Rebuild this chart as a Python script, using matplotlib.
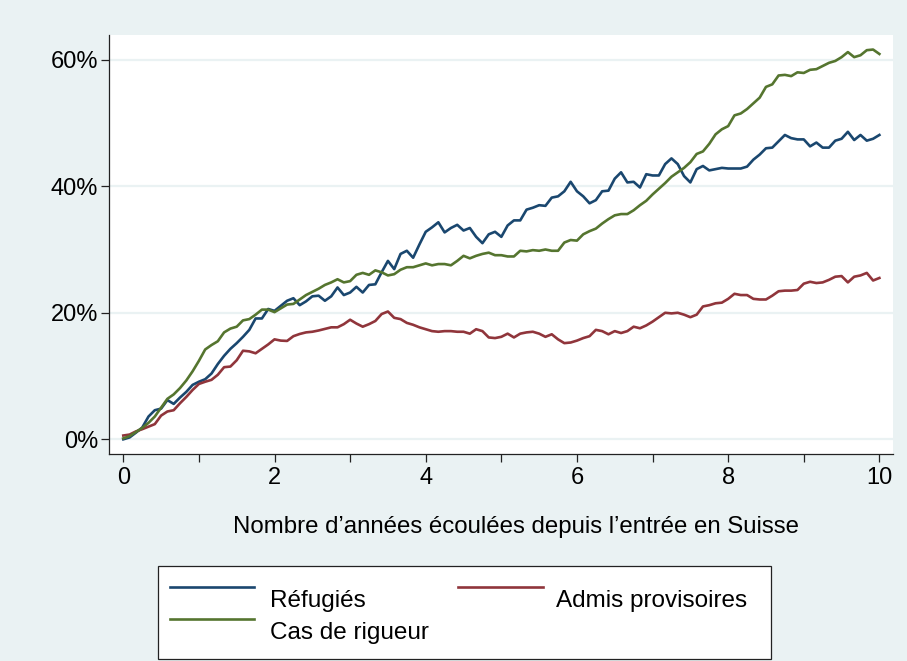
import numpy as np
import matplotlib
matplotlib.use("Agg")
import matplotlib.pyplot as plt
from matplotlib.lines import Line2D
from matplotlib.patches import Rectangle
from matplotlib.ticker import FixedLocator, FuncFormatter

plt.rcParams['font.family'] = ['Liberation Sans', 'DejaVu Sans']

# years since entry (monthly steps, 0..10 years)
months = np.arange(121)
years = months / 12.0

refugies = [
    0.0, 0.3, 1.05, 1.85, 3.6, 4.6, 4.85, 6.2, 5.6, 6.6, 7.5, 8.6, 9.1, 9.5, 10.4, 11.9, 13.2, 14.3, 15.2, 16.2,
    17.3, 19.1, 19.1, 20.6, 20.3, 21.1, 21.9, 22.3, 21.2, 21.8, 22.6, 22.7, 21.9, 22.6, 24.0, 22.8, 23.2, 24.1, 23.2, 24.4,
    24.5, 26.4, 28.2, 26.9, 29.3, 29.8, 28.7, 30.8, 32.8, 33.5, 34.3, 32.7, 33.4, 33.9, 33.0, 33.4, 32.0, 31.0, 32.4, 32.8,
    32.0, 33.8, 34.6, 34.6, 36.3, 36.6, 37.0, 36.9, 38.2, 38.4, 39.2, 40.7, 39.2, 38.4, 37.3, 37.8, 39.2, 39.3, 41.2, 42.2,
    40.6, 40.7, 39.8, 41.9, 41.7, 41.7, 43.5, 44.4, 43.5, 41.6, 40.6, 42.7, 43.2, 42.5, 42.7, 42.9, 42.8, 42.8, 42.8, 43.1,
    44.2, 45.0, 46.0, 46.1, 47.1, 48.1, 47.6, 47.4, 47.4, 46.3, 46.9, 46.1, 46.1, 47.2, 47.5, 48.6, 47.3, 48.1, 47.2, 47.5,
    48.1,
]

admis_provisoires = [
    0.6, 0.75, 1.25, 1.6, 2.0, 2.4, 3.75, 4.4, 4.6, 5.7, 6.7, 7.8, 8.75, 9.1, 9.4, 10.2, 11.4, 11.5, 12.5, 14.0,
    13.9, 13.6, 14.3, 15.0, 15.8, 15.6, 15.55, 16.3, 16.65, 16.9, 17.0, 17.2, 17.45, 17.7, 17.7, 18.2, 18.9, 18.3, 17.8, 18.2,
    18.7, 19.8, 20.2, 19.2, 19.0, 18.4, 18.1, 17.7, 17.4, 17.1, 17.0, 17.1, 17.1, 17.0, 17.0, 16.7, 17.4, 17.1, 16.1, 16.0,
    16.2, 16.7, 16.1, 16.7, 16.9, 17.0, 16.7, 16.2, 16.6, 15.8, 15.2, 15.3, 15.6, 16.0, 16.3, 17.3, 17.1, 16.6, 17.1, 16.8,
    17.1, 17.8, 17.55, 18.0, 18.6, 19.3, 20.0, 19.9, 20.0, 19.7, 19.3, 19.7, 21.0, 21.2, 21.5, 21.6, 22.2, 23.0, 22.8, 22.8,
    22.2, 22.1, 22.1, 22.7, 23.4, 23.5, 23.5, 23.6, 24.6, 24.9, 24.7, 24.8, 25.2, 25.7, 25.8, 24.8, 25.7, 25.9, 26.3, 25.1,
    25.5,
]

cas_de_rigueur = [
    0.15, 0.5, 1.15, 1.8, 2.6, 3.6, 5.0, 6.4, 7.1, 8.1, 9.3, 10.75, 12.4, 14.2, 14.9, 15.5, 16.9, 17.5, 17.8, 18.8,
    19.0, 19.7, 20.5, 20.5, 20.1, 20.7, 21.3, 21.4, 22.1, 22.8, 23.3, 23.8, 24.4, 24.8, 25.3, 24.8, 25.0, 26.0, 26.3, 26.0,
    26.7, 26.4, 25.9, 26.1, 26.8, 27.2, 27.2, 27.5, 27.8, 27.5, 27.7, 27.7, 27.5, 28.2, 29.0, 28.6, 29.0, 29.3, 29.5, 29.1,
    29.1, 28.9, 28.9, 29.8, 29.7, 29.9, 29.8, 30.0, 29.8, 29.8, 31.1, 31.5, 31.4, 32.4, 32.9, 33.3, 34.1, 34.8, 35.4, 35.6,
    35.6, 36.2, 37.0, 37.7, 38.7, 39.6, 40.5, 41.5, 42.2, 42.9, 43.8, 45.1, 45.5, 46.7, 48.2, 49.0, 49.5, 51.2, 51.5, 52.2,
    53.1, 54.0, 55.7, 56.1, 57.5, 57.6, 57.4, 58.0, 57.9, 58.4, 58.5, 59.0, 59.5, 59.8, 60.4, 61.2, 60.4, 60.7, 61.5, 61.6,
    60.9,
]

series_labels = ["Réfugiés", "Admis provisoires", "Cas de rigueur"]
x_label = "Nombre d\u2019années écoulées depuis l\u2019entrée en Suisse"
y_ticks = [0, 20, 40, 60]
x_major = [0, 2, 4, 6, 8, 10]
x_minor = [1, 3, 5, 7, 9]

c_blue = "#1a476f"
c_red = "#90353b"
c_green = "#55752f"
bg = "#eaf2f3"

W, H = 907, 661
fig = plt.figure(figsize=(W / 100, H / 100), dpi=100, facecolor=bg)
ax = fig.add_axes([109 / W, 1 - 454 / H, (893 - 109) / W, (454 - 35) / H])
ax.set_facecolor("white")

lw = 1.9
ax.plot(years, refugies, color=c_blue, lw=lw, zorder=3)
ax.plot(years, admis_provisoires, color=c_red, lw=lw, zorder=3)
ax.plot(years, cas_de_rigueur, color=c_green, lw=lw, zorder=3)

ax.set_xlim(-0.189, 10.18)
ax.set_ylim(-2.32, 63.9)

for s in ["top", "right"]:
    ax.spines[s].set_visible(False)
for s in ["left", "bottom"]:
    ax.spines[s].set_color("#222222")
    ax.spines[s].set_linewidth(0.9)

ax.yaxis.set_major_locator(FixedLocator(y_ticks))
ax.yaxis.set_major_formatter(FuncFormatter(lambda v, p: f"{v:.0f}%"))
ax.xaxis.set_major_locator(FixedLocator(x_major))
ax.xaxis.set_minor_locator(FixedLocator(x_minor))
ax.xaxis.set_major_formatter(FuncFormatter(lambda v, p: f"{v:.0f}"))
ax.tick_params(axis="both", which="both", direction="out", length=6, width=0.9,
               color="#222222", labelsize=17, labelcolor="black")
ax.tick_params(axis="y", pad=2)
ax.tick_params(axis="x", pad=3)

ax.grid(axis="y", color=bg, lw=1.6, zorder=1)
ax.set_axisbelow(True)

ax.set_xlabel(x_label, fontsize=17.3)
ax.xaxis.set_label_coords((516 - 109) / 784, (454 - 527) / 419)
ax.xaxis.label.set_va("center")

# Legend (Stata style) drawn in figure pixel coordinates
def fx(px):
    return px / W

def fy(py):
    return 1 - py / H

fig.patches.append(Rectangle((fx(158), fy(659)), fx(771) - fx(158), fy(566) - fy(659),
                             transform=fig.transFigure, facecolor="white",
                             edgecolor="#222222", lw=0.9, zorder=5))
keys = [
    (c_blue, 170, 254, 587, 270, 601, series_labels[0]),
    (c_red, 458, 543, 587, 556, 601, series_labels[1]),
    (c_green, 170, 254, 619, 270, 633, series_labels[2]),
]
for col, x0, x1, ky, tx, ty, lab in keys:
    fig.lines.append(Line2D([fx(x0), fx(x1)], [fy(ky), fy(ky)], color=col, lw=lw,
                            transform=fig.transFigure, zorder=6))
    fig.text(fx(tx), fy(ty), lab, fontsize=17.5, va="center", ha="left", zorder=6)

fig.savefig("out.png", dpi=100, facecolor=bg)
